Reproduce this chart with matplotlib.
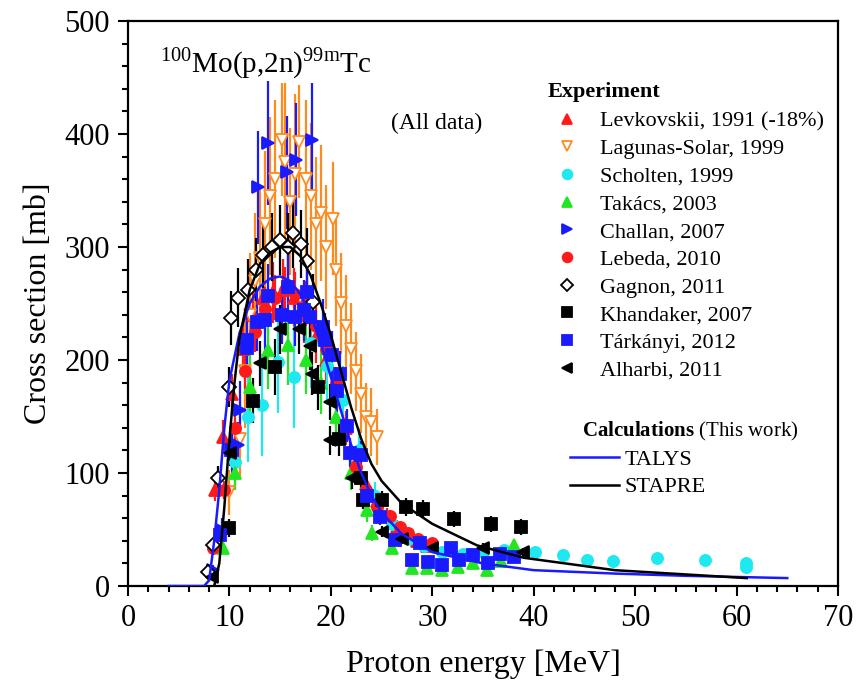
import matplotlib
matplotlib.use("Agg")
import matplotlib.pyplot as plt
from matplotlib.lines import Line2D
from matplotlib.ticker import MultipleLocator

plt.rcParams['font.family'] = ['Liberation Serif', 'DejaVu Serif']
plt.rcParams['mathtext.fontset'] = 'custom'
plt.rcParams['mathtext.rm'] = 'Liberation Serif'
plt.rcParams['mathtext.bf'] = 'Liberation Serif:bold'

# ---- data ----
levk_e = [8.6, 9.4, 10.3, 11.3, 12.3, 13.3, 14.3, 15.3, 16.4, 17.4, 18.5, 19.5, 20.5, 21.5, 22.5, 23.5, 24.5, 25.5, 26.5, 27.5, 28.5, 29.5]
levk_s = [85, 132, 170, 210, 240, 255, 260, 262, 255, 240, 220, 200, 170, 140, 110, 90, 75, 62, 52, 45, 40, 35]
levk_d = [10, 15, 18, 22, 25, 26, 27, 27, 26, 25, 23, 21, 18, 15, 12, 10, 8, 7, 6, 5, 5, 4]

lag_e = [10.0, 11.0, 11.5, 12.0, 12.5, 13.0, 13.5, 14.0, 14.5, 15.2, 15.5, 16.0, 16.5, 16.9, 17.5, 18.0, 18.5, 19.0, 19.5, 20.2, 20.5, 21.0, 21.5, 22.0, 22.5, 23.0, 23.5, 24.0, 24.5]
lag_s = [83, 130, 190, 240, 270, 290, 320, 345, 360, 395, 375, 340, 365, 393, 360, 345, 320, 330, 300, 325, 280, 250, 230, 210, 190, 170, 150, 145, 132]
lag_d = [20, 35, 50, 55, 60, 60, 65, 70, 70, 50, 70, 65, 70, 50, 70, 65, 60, 60, 55, 50, 50, 45, 45, 40, 35, 35, 30, 30, 25]

sch_e = [10.5, 11.8, 13.2, 14.8, 16.4, 18.0, 19.6, 21.2, 22.8, 24.4, 26.0, 27.6, 29.2, 31.0, 33.0, 35.0, 37.1, 40.1, 42.9, 45.3, 47.8, 52.2, 56.9, 60.9, 60.9]
sch_s = [110, 150, 160, 198, 185, 215, 195, 165, 120, 80, 55, 42, 35, 30, 28, 30, 32, 30, 27, 23, 22, 25, 23, 20, 17]
sch_d = [25, 40, 45, 45, 45, 40, 35, 30, 20, 12, 8, 6, 5, 4, 4, 4, 4, 3, 3, 3, 3, 3, 3, 3, 3]

tak_e = [9.4, 10.5, 12.0, 13.8, 15.8, 17.5, 19.0, 20.5, 22.0, 23.6, 24.1, 26.0, 28.0, 29.5, 31.0, 32.5, 34.0, 35.4, 36.8, 38.1]
tak_s = [34, 100, 176, 209, 213, 200, 180, 150, 100, 67, 47, 34, 16, 16, 14, 17, 20, 14, 22, 36]
tak_d = [5, 15, 30, 35, 35, 30, 28, 22, 15, 10, 7, 5, 3, 3, 3, 3, 3, 3, 3, 5]

chal_e = [8.4, 9.3, 10.3, 10.8, 11.0, 12.8, 13.8, 15.7, 16.6, 18.1]
chal_s = [14, 50, 120, 125, 156, 353, 392, 366, 377, 395]
chal_d = [5, 10, 20, 20, 25, 50, 55, 50, 50, 50]

leb_e = [8.4, 9.5, 10.5, 11.5, 12.5, 13.5, 14.5, 15.5, 16.5, 17.5, 18.5, 19.5, 20.5, 21.5, 22.5, 23.5, 24.5, 25.8, 26.8, 27.6, 28.6, 30.0]
leb_s = [34, 85, 140, 190, 225, 245, 255, 262, 258, 250, 230, 210, 180, 140, 105, 85, 70, 62, 52, 47, 42, 38]
leb_d = [4, 8, 12, 16, 18, 20, 20, 20, 20, 20, 18, 16, 14, 11, 8, 7, 6, 5, 4, 4, 4, 3]

gag_e = [7.9, 8.4, 8.9, 10.0, 10.2, 10.8, 11.8, 12.6, 13.3, 14.2, 15.0, 15.8, 16.3, 17.1, 17.6, 18.2]
gag_s = [12, 36, 96, 176, 237, 255, 262, 280, 293, 300, 306, 300, 312, 303, 288, 251]
gag_d = [3, 5, 10, 18, 24, 26, 27, 28, 29, 30, 31, 30, 31, 30, 29, 25]

kha_e = [10.0, 12.3, 14.5, 18.7, 20.8, 23.0, 23.2, 25.0, 27.4, 29.1, 32.1, 35.8, 38.7]
kha_s = [51, 164, 194, 176, 130, 96, 76, 76, 70, 68, 59, 55, 52]
kha_d = [8, 20, 25, 20, 15, 10, 8, 8, 8, 8, 7, 7, 7]

tar_e = [9.1, 10.2, 11.7, 11.7, 12.7, 13.5, 13.8, 15.2, 15.8, 16.5, 17.4, 17.6, 17.9, 19.2, 19.4, 20.1, 20.6, 20.9, 21.6, 21.9, 23.0, 23.6, 24.8, 26.3, 28.0, 28.8, 29.6, 31.0, 31.8, 32.6, 34.0, 35.5, 36.7, 38.1]
tar_s = [45, 120, 218, 211, 234, 235, 257, 240, 265, 238, 244, 260, 238, 229, 218, 204, 173, 188, 142, 118, 116, 80, 61, 41, 23, 38, 21, 19, 34, 23, 27, 20, 28, 26]
tar_d = [6, 14, 25, 25, 26, 26, 28, 26, 28, 26, 27, 28, 26, 25, 24, 22, 19, 20, 15, 13, 12, 9, 7, 5, 3, 4, 3, 3, 4, 3, 3, 3, 3, 3]

alh_e = [8.3, 10.1, 13.0, 15.0, 16.9, 17.9, 18.1, 19.9, 19.9, 22.1, 25.0, 27.0, 30.0, 35.0, 38.9]
alh_s = [8, 118, 197, 227, 227, 212, 188, 163, 129, 96, 48, 42, 34, 34, 30]
alh_d = [3, 12, 20, 22, 22, 21, 19, 16, 13, 10, 5, 5, 4, 4, 4]

talys_e = [4, 7.5, 8.0, 8.5, 9.0, 9.5, 10, 11, 12, 13, 14, 15, 16, 17, 18, 19, 20, 21, 22, 23, 24, 25, 27, 30, 35, 40, 48, 55, 65]
talys_s = [0, 0, 5, 40, 85, 140, 182, 224, 250, 265, 272, 274, 270, 258, 240, 215, 185, 155, 125, 100, 80, 65, 46, 30, 20, 14, 11, 9, 7]

stapre_e = [8.5, 9.0, 9.5, 10, 10.5, 11, 12, 13, 14, 15, 16, 17, 18, 19, 20, 21, 22, 23, 24, 25, 27, 30, 34.4, 39, 48, 61]
stapre_s = [0, 20, 70, 130, 180, 220, 262, 285, 295, 300, 300, 292, 275, 250, 222, 190, 158, 130, 108, 93, 73, 55, 36, 25, 14, 7]

RED = '#ff1a1a'
ORANGE = '#ff8a1e'
CYAN = '#1ee8f0'
GREEN = '#22e622'
BLUE = '#1a1aff'

sets = [
    ("Levkovskii, 1991 (-18%)", levk_e, levk_s, levk_d, '^', RED, RED),
    ("Lagunas-Solar, 1999", lag_e, lag_s, lag_d, 'v', ORANGE, 'white'),
    ("Scholten, 1999", sch_e, sch_s, sch_d, 'o', CYAN, CYAN),
    ("Takács, 2003", tak_e, tak_s, tak_d, '^', GREEN, GREEN),
    ("Challan, 2007", chal_e, chal_s, chal_d, '>', BLUE, BLUE),
    ("Lebeda, 2010", leb_e, leb_s, leb_d, 'o', RED, RED),
    ("Gagnon, 2011", gag_e, gag_s, gag_d, 'D', 'black', 'white'),
    ("Khandaker, 2007", kha_e, kha_s, kha_d, 's', 'black', 'black'),
    ("Tárkányi, 2012", tar_e, tar_s, tar_d, 's', BLUE, BLUE),
    ("Alharbi, 2011", alh_e, alh_s, alh_d, '<', 'black', 'black'),
]

fig = plt.figure(figsize=(8.6, 6.83), dpi=100)
ax = fig.add_axes([128/860, 1-586/683, 710/860, 565/683])

handles = []
for label, e, s, d, m, col, face in sets:
    ms = 7 if m == 'D' else 8
    ax.errorbar(e, s, yerr=d, fmt=m, color=col, mfc=face, mec=col,
                ms=ms, mew=1.3, elinewidth=1.6, capsize=0, zorder=3)
    handles.append(Line2D([], [], ls='none', marker=m, color=col, mfc=face,
                          mec=col, ms=7 if m != 'D' else 6, mew=1.3))

l1, = ax.plot(talys_e, talys_s, color=BLUE, lw=1.8, zorder=4)
l2, = ax.plot(stapre_e, stapre_s, color='black', lw=1.8, zorder=4)

ax.set_xlim(0, 70)
ax.set_ylim(0, 500)
ax.xaxis.set_major_locator(MultipleLocator(10))
ax.xaxis.set_minor_locator(MultipleLocator(2))
ax.yaxis.set_major_locator(MultipleLocator(100))
ax.yaxis.set_minor_locator(MultipleLocator(20))
ax.tick_params(which='both', direction='out', width=1.5, labelsize=22)
ax.tick_params(which='major', length=7, pad=6)
ax.tick_params(which='minor', length=4)
for sp in ax.spines.values():
    sp.set_linewidth(1.6)

ax.set_xlabel("Proton energy [MeV]", fontsize=23, labelpad=12)
ax.set_ylabel("Cross section [mb]", fontsize=23, labelpad=8)

ax.text(0.045, 0.925, r"$^{100}$Mo(p,2n)$^{\mathrm{99m}}$Tc", transform=ax.transAxes,
        fontsize=21, va='center', ha='left')
ax.text(0.37, 0.818, "(All data)", transform=ax.transAxes, fontsize=17,
        va='center', ha='left')

fig.text(548/860, 1-92/683, "Experiment", fontsize=16, fontweight='bold',
         va='center', ha='left')
fig.legend(handles, [s[0] for s in sets], loc='upper left',
           bbox_to_anchor=(553/860, 1-111/683), bbox_transform=fig.transFigure,
           frameon=False, fontsize=16, borderpad=0, borderaxespad=0,
           handlelength=1.3, handletextpad=0.8, labelspacing=0.32)

fig.text(582/860, 1-431/683, r"$\mathbf{Calculations}$ (This work)", fontsize=15,
         va='center', ha='left')
fig.legend([l1, l2], ["TALYS", "STAPRE"], loc='upper left',
           bbox_to_anchor=(570/860, 1-449/683), bbox_transform=fig.transFigure,
           frameon=False, fontsize=16, borderpad=0, borderaxespad=0,
           handlelength=2.2, handletextpad=0.25, labelspacing=0.33)

fig.savefig("out.png", dpi=100)
